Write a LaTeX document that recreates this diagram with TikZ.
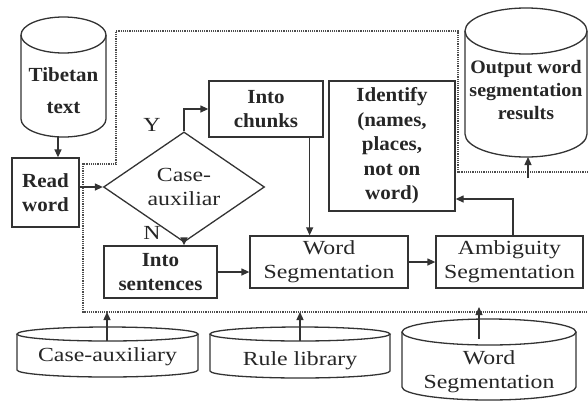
\documentclass[tikz,border=0pt]{standalone}
\usepackage{fontspec}
\setmainfont{Liberation Serif}[FakeStretch=1.19, BoldFeatures={FakeStretch=1.05}]
\usetikzlibrary{shapes.geometric,arrows.meta}
\tikzset{
  flow/.style={draw=black!80, line width=1.3pt},
  txt/.style={align=center, inner sep=0pt, text=black!85, font=\fontsize{20}{24}\selectfont},
  btxt/.style={txt, font=\fontsize{20}{24}\selectfont\bfseries},
  box/.style={flow, rectangle, btxt},
  arr/.style={flow, -{Triangle[length=8pt,width=7pt]}},
  border/.style={draw=black!70, densely dotted, line width=1.2pt}
}
\begin{document}
\begin{tikzpicture}[x=1pt,y=-1pt]
\useasboundingbox (0,0) rectangle (588,402);
% Dotted frame round the segmentation steps
\draw[border] (588,172) -- (458,172) -- (458,31) -- (116,31) -- (116,164) -- %
  (83,164) -- (83,312) -- (588,312);
% Input and output cylinders
\draw[flow] (21,35) -- (21,119) arc[start angle=180,end angle=0,x radius=42.5,y radius=18] -- (106,35);
\draw[flow] (63.5,35) ellipse[x radius=42.5,y radius=18];
\node[btxt] (tib) at (63.5,91) {Tibetan\\[8pt]text};
\coordinate (tibout) at (58,137);
\draw[flow] (465,31) -- (465,134) arc[start angle=180,end angle=0,x radius=61,y radius=23] -- (587,31);
\draw[flow] (526,31) ellipse[x radius=61,y radius=23];
\node[btxt, font=\fontsize{19}{23}\selectfont\bfseries] (outres) at (526,90) {Output word\\segmentation\\results};
\coordinate (outin) at (528,157);
% Process boxes
\node[box, minimum width=67pt, minimum height=69pt] (read) at (45.5,192.5) {Read\\word};
\node[flow, diamond, txt, minimum width=161pt, minimum height=93pt] (case) at (184,187) {Case-\\auxiliar};
\node[box, minimum width=114pt, minimum height=56pt] (chunks) at (266,109) {Into\\chunks};
\node[box, minimum width=113pt, minimum height=52pt] (sent) at (160.5,272) {Into\\sentences};
\node[box, txt, minimum width=158pt, minimum height=52pt] (wseg) at (329,262) {Word\\Segmentation};
\node[box, txt, minimum width=147pt, minimum height=52pt] (amb) at (509.5,262) {Ambiguity\\Segmentation};
\node[box, font=\fontsize{20}{24.5}\selectfont\bfseries, minimum width=126pt, minimum height=130pt] (ident) at (392,146) {Identify\\(names,\\places,\\not on\\word)};
\node[txt] (yes) at (152,125) {Y};
\node[txt] (no) at (152,233) {N};
% Library cylinders
\draw[flow] (17,334) -- (17,370) arc[start angle=180,end angle=0,x radius=90.5,y radius=7] -- (198,334);
\draw[flow] (107.5,334) ellipse[x radius=90.5,y radius=7];
\node[txt] (caselib) at (107.5,357) {Case-auxiliary};
\draw[flow] (210,334) -- (210,371) arc[start angle=180,end angle=0,x radius=90,y radius=7] -- (390,334);
\draw[flow] (300,334) ellipse[x radius=90,y radius=7];
\node[txt] (rulelib) at (300,361) {Rule library};
\draw[flow] (402,332) -- (402,387) arc[start angle=180,end angle=0,x radius=87,y radius=13] -- (576,332);
\draw[flow] (489,332) ellipse[x radius=87,y radius=13];
\node[txt] (wseglib) at (489,372) {Word\\Segmentation};
% Connectors
\coordinate (casefrom) at (107,341);
\coordinate (rulefrom) at (300,341);
\coordinate (wsegfrom) at (479,339);
\coordinate (frame) at (0,312);
\coordinate (outfrom) at (528,178);
\coordinate (cdown) at ([xshift=-14pt]chunks.south east);
\coordinate (idin) at ([yshift=-53pt]ident.east);
\draw[arr] (tibout) -- (tibout |- read.north);
\draw[arr] (case.west -| read.east) -- (case.west);
\draw[arr] (case.north) |- (chunks.west);
\draw[arr] (case.south) -- (case.south |- sent.north);
\draw[arr] (sent.east) -- (sent.east -| wseg.west);
\draw[arr] (cdown) -- (cdown |- wseg.north);
\draw[arr] (wseg.east) -- (amb.west);
\draw[arr] (amb.north -| 513,0) |- (idin);
\draw[arr] (outfrom) -- (outin);
\draw[arr] (casefrom) -- (casefrom |- frame);
\draw[arr] (rulefrom) -- (rulefrom |- frame);
\draw[arr] (wsegfrom) -- ([yshift=5pt]wsegfrom |- frame);
\end{tikzpicture}
\end{document}
